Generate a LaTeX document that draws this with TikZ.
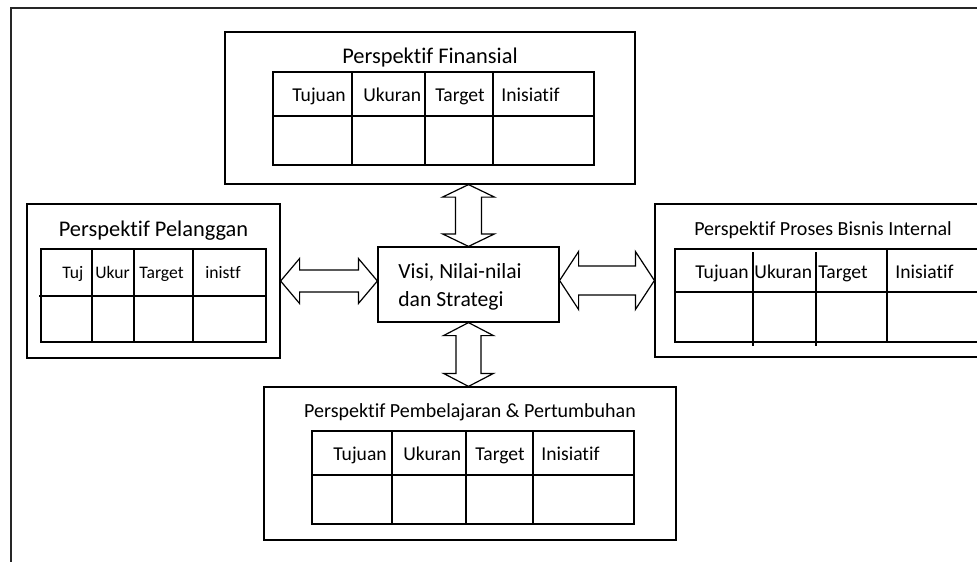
\documentclass[tikz,border=0pt]{standalone}
\usepackage{fontspec}
\setmainfont[Ligatures={NoCommon,NoRare,NoContextual}]{Carlito}
\usetikzlibrary{calc}

% two-headed block arrow between two points: start, end, head length, shaft half width, head half width
\newcommand{\twoway}[5]{%
  \coordinate (tw-a) at ($(#1)!#3!(#2)$);
  \coordinate (tw-b) at ($(#2)!#3!(#1)$);
  \draw[arrowline] (#1) -- ($(tw-a)!#5!90:(#2)$) -- ($(tw-a)!#4!90:(#2)$)
    -- ($(tw-b)!#4!-90:(#1)$) -- ($(tw-b)!#5!-90:(#1)$) -- (#2)
    -- ($(tw-b)!#5!90:(#1)$) -- ($(tw-b)!#4!90:(#1)$)
    -- ($(tw-a)!#4!-90:(#2)$) -- ($(tw-a)!#5!-90:(#2)$) -- cycle;
}

\begin{document}
\begin{tikzpicture}[x=0.5pt, y=-0.5pt,
    pbox/.style={draw, line width=0.6pt, inner sep=0pt},
    arrowline/.style={draw, line width=0.6pt, line join=miter, fill=white},
    grid/.style={line width=0.6pt},
    title/.style={inner sep=0pt, anchor=base, font=\fontsize{11.2}{13}\selectfont},
    stitle/.style={inner sep=0pt, anchor=base, font=\fontsize{10}{12}\selectfont},
    cell/.style={inner sep=0pt, anchor=base west, font=\fontsize{9.8}{12}\selectfont},
    scell/.style={inner sep=0pt, anchor=base west, font=\fontsize{8.8}{11}\selectfont}]
\useasboundingbox (0,0) rectangle (977,561);

% outer frame (only top and left edge visible)
\draw[line width=1pt, black!85] (995,8) -- (11,8) -- (11,570);

% boxes
\node[pbox, minimum width=205pt, minimum height=76pt] (fin) at (430,108) {};
\node[pbox, minimum width=126.5pt, minimum height=77pt] (pel) at (153.5,281) {};
\node[pbox, minimum width=168pt, minimum height=76.5pt] (pro) at (823,280.5) {};
\node[pbox, minimum width=206pt, minimum height=76.5pt] (pem) at (470,463.5) {};
\node[pbox, minimum width=90.5pt, minimum height=37.5pt] (vis) at (468.5,284.5) {};

% titles
\node[title] (fin-t) at (430,64) {Perspektif Finansial};
\node[title] (pel-t) at (153.5,236) {Perspektif Pelanggan};
\node[stitle] (pro-t) at (823,235) {Perspektif Proses Bisnis Internal};
\node[stitle] (pem-t) at (470,417) {Perspektif Pembelajaran \& Pertumbuhan};
\node[inner sep=0pt, anchor=base west, font=\fontsize{10.8}{13}\selectfont] (vis-t1) at (398,278) {Visi, Nilai-nilai};
\node[inner sep=0pt, anchor=base west, font=\fontsize{10.8}{13}\selectfont] (vis-t2) at (398,306) {dan Strategi};

% table financial
\draw[grid] (273,72) rectangle (594,165);
\draw[grid] (273,116) -- (594,116);
\foreach \x in {352,425,493} \draw[grid] (\x,72) -- (\x,165);
\foreach \t/\x [count=\i] in {Tujuan/292, Ukuran/363, Target/435, Inisiatif/501}
  \node[cell] (fin-c\i) at (\x,102) {\t};

% table customer
\draw[grid] (41,249) rectangle (266,342);
\draw[grid] (39,296) -- (266,296);
\foreach \x in {92,134,193} \draw[grid] (\x,249) -- (\x,342);
\foreach \t/\x [count=\i] in {Tuj/62, Ukur/95, Target/139, inistf/205}
  \node[scell] (pel-c\i) at (\x,278) {\t};

% table internal process
\draw[grid] (675,249) rectangle (985,342);
\draw[grid] (675,292) -- (985,292);
\foreach \x in {753,816} \draw[grid] (\x,252) -- (\x,346);
\draw[grid] (887,249) -- (887,342);
\foreach \t/\x [count=\i] in {Tujuan/695, Ukuran/754, Target/818, Inisiatif/895}
  \node[cell] (pro-c\i) at (\x,278) {\t};

% table learning & growth
\draw[grid] (312,431) rectangle (634,524);
\draw[grid] (312,475) -- (634,475);
\foreach \x in {392,466,533} \draw[grid] (\x,431) -- (\x,524);
\foreach \t/\x [count=\i] in {Tujuan/333, Ukuran/403, Target/475, Inisiatif/541}
  \node[cell] (pem-c\i) at (\x,460) {\t};

% arrows
\coordinate (fin-in) at (vis.north |- fin.south);
\coordinate (pem-in) at (vis.south |- pem.north);
\coordinate (pel-in) at (vis.west |- pel.east);
\coordinate (pro-in) at (vis.east |- pro.west);
\twoway{fin-in}{vis.north}{6.25pt}{6.5pt}{13pt}
\twoway{vis.south}{pem-in}{6.5pt}{6.25pt}{12.5pt}
\twoway{pel.east}{pel-in}{9.5pt}{5.5pt}{11.25pt}
\twoway{pro-in}{pro.west}{9.5pt}{7.25pt}{14.5pt}
\end{tikzpicture}
\end{document}
